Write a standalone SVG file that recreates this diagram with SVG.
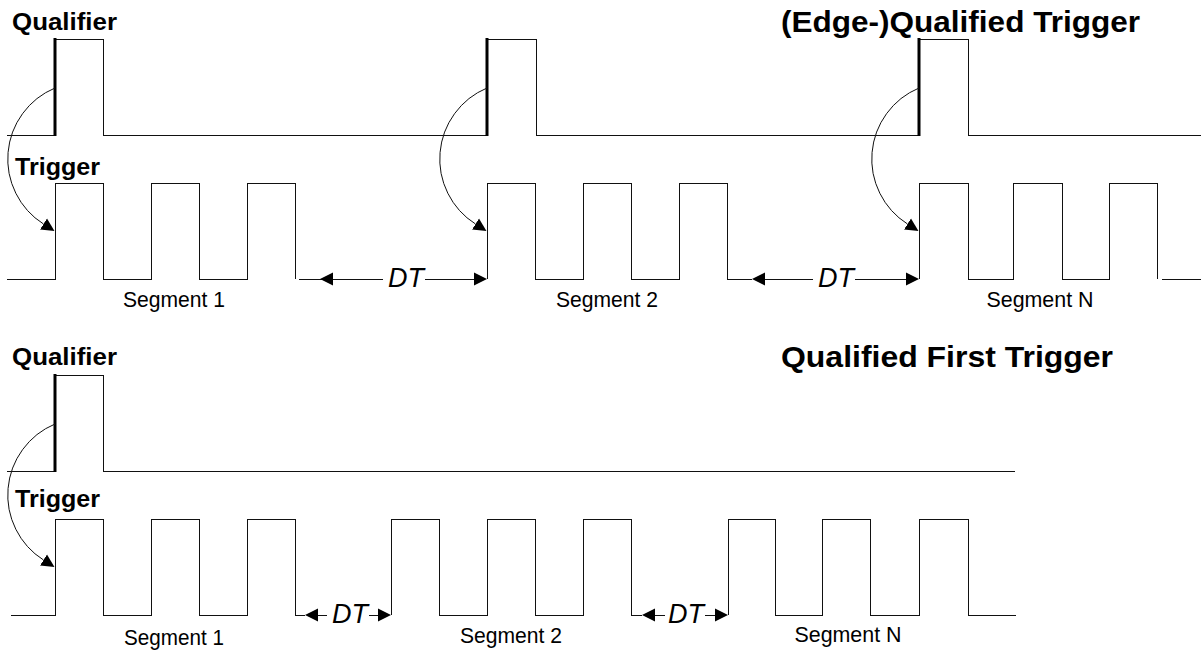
<svg xmlns="http://www.w3.org/2000/svg" width="1201" height="656" viewBox="0 0 1201 656">
<style>
.sig{fill:none;stroke:#111;stroke-width:1;shape-rendering:crispEdges}
.edge{stroke:#000;stroke-width:3;fill:none}
.arc{fill:none;stroke:#111;stroke-width:1}
.dtl{fill:none;stroke:#111;stroke-width:1;shape-rendering:crispEdges}
.lbl{font-family:"Liberation Sans",Arial,sans-serif;font-weight:bold;font-size:24px;fill:#000}
.ttl{font-family:"Liberation Sans",Arial,sans-serif;font-weight:bold;font-size:30px;fill:#000}
.seg{font-family:"Liberation Sans",Arial,sans-serif;font-size:22px;fill:#000;text-anchor:middle}
.dt{font-family:"Liberation Sans",Arial,sans-serif;font-style:italic;font-size:27px;fill:#000;text-anchor:middle}
</style>
<defs>
<marker id="ah" markerUnits="userSpaceOnUse" markerWidth="14" markerHeight="14" viewBox="0 -7 14 14" refX="0" refY="0" orient="auto">
<path d="M0,-6.5 L13,0 L0,6.5 Z" fill="#000"/>
</marker>
</defs>
<rect width="1201" height="656" fill="#fff"/>

<g id="top-labels">
<text class="lbl" x="12" y="30" textLength="105" lengthAdjust="spacingAndGlyphs">Qualifier</text>
<text class="lbl" x="15" y="175" textLength="85" lengthAdjust="spacingAndGlyphs">Trigger</text>
<text class="ttl" x="781" y="32" textLength="359" lengthAdjust="spacingAndGlyphs">(Edge-)Qualified Trigger</text>
<text class="seg" x="174" y="307" textLength="102" lengthAdjust="spacingAndGlyphs">Segment 1</text>
<text class="seg" x="607" y="307" textLength="102" lengthAdjust="spacingAndGlyphs">Segment 2</text>
<text class="seg" x="1040" y="307" textLength="107" lengthAdjust="spacingAndGlyphs">Segment N</text>
</g>

<g id="top-qualifier">
<path class="sig" d="M7,135 H55 V39 H103 V135 H487 V39 H536 V135 H919 V39 H968 V135 H1201"/>
<path class="edge" d="M55,38 V136 M487,38 V136 M919,38 V136"/>
</g>

<g id="top-trigger">
<path class="sig" d="M7,279 H55 V183 H103 V279 H151 V183 H199 V279 H247 V183 H295 V279"/>
<path class="sig" d="M487,279 V183 H535 V279 H583 V183 H631 V279 H679 V183 H727 V279 H752"/>
<path class="sig" d="M919,279 V183 H968 V279 H1013 V183 H1062 V279 H1109 V183 H1157 V279"/>
<path class="sig" d="M1162,279 H1201"/>
</g>

<g id="bottom-labels">
<text class="lbl" x="12" y="365" textLength="105" lengthAdjust="spacingAndGlyphs">Qualifier</text>
<text class="lbl" x="15" y="507" textLength="85" lengthAdjust="spacingAndGlyphs">Trigger</text>
<text class="ttl" x="781" y="367" textLength="332" lengthAdjust="spacingAndGlyphs">Qualified First Trigger</text>
<text class="seg" x="174" y="645" textLength="100" lengthAdjust="spacingAndGlyphs">Segment 1</text>
<text class="seg" x="511" y="643" textLength="102" lengthAdjust="spacingAndGlyphs">Segment 2</text>
<text class="seg" x="848" y="642" textLength="107" lengthAdjust="spacingAndGlyphs">Segment N</text>
</g>

<g id="bottom-qualifier">
<path class="sig" d="M7,471 H55 V375 H103 V471 H1015"/>
<path class="edge" d="M55,374 V472"/>
</g>

<g id="bottom-trigger">
<path class="sig" d="M11,615 H55 V519 H103 V615 H151 V519 H199 V615 H247 V519 H295 V615 H305"/>
<path class="sig" d="M391,615 V519 H439 V615 H487 V519 H535 V615 H583 V519 H631 V615 H642"/>
<path class="sig" d="M728,615 V519 H775 V615 H822 V519 H870 V615 H919 V519 H968 V615 H1016"/>
</g>

<g id="connectors">
<path class="arc" d="M55,88 A77,77 0 0 0 43.5,224" marker-end="url(#ah)"/>
<path class="arc" d="M487,88 A77,77 0 0 0 475.5,224" marker-end="url(#ah)"/>
<path class="arc" d="M919,88 A77,77 0 0 0 907.5,224" marker-end="url(#ah)"/>
<path class="arc" d="M55,424 A77,77 0 0 0 43.5,560" marker-end="url(#ah)"/>

<path class="dtl" d="M299,279 H333"/>
<path class="dtl" d="M383,279 H333" marker-end="url(#ah)"/>
<path class="dtl" d="M425,279 H474" marker-end="url(#ah)"/>
<path class="dtl" d="M813,279 H765" marker-end="url(#ah)"/>
<path class="dtl" d="M855,279 H906" marker-end="url(#ah)"/>

<path class="dtl" d="M327,615 H318" marker-end="url(#ah)"/>
<path class="dtl" d="M369,615 H378" marker-end="url(#ah)"/>
<path class="dtl" d="M665,615 H655" marker-end="url(#ah)"/>
<path class="dtl" d="M705,615 H715" marker-end="url(#ah)"/>
</g>

<g id="dt-labels">
<text class="dt" x="406" y="287">DT</text>
<text class="dt" x="836" y="287">DT</text>
<text class="dt" x="350" y="623">DT</text>
<text class="dt" x="686" y="623">DT</text>
</g>
</svg>
